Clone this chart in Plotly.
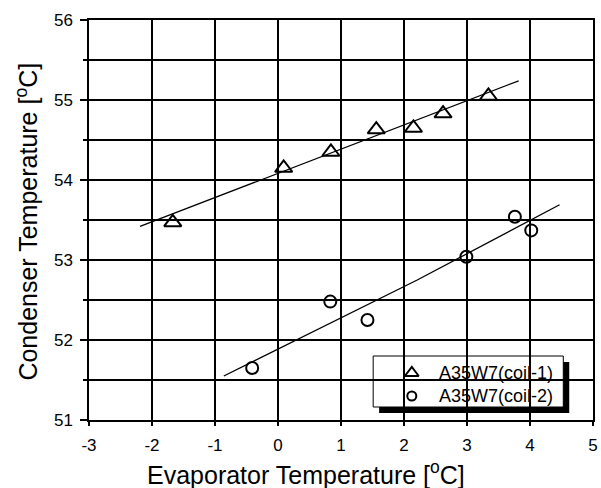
import plotly.graph_objects as go

# Measured points
coil1_x = [-1.67, 0.09, 0.84, 1.56, 2.15, 2.62, 3.34]
coil1_y = [53.47, 54.15, 54.35, 54.63, 54.65, 54.83, 55.05]
coil2_x = [-0.41, 0.83, 1.42, 2.99, 3.76, 4.02]
coil2_y = [51.65, 52.48, 52.25, 53.04, 53.54, 53.37]

# Fitted trend lines
fit1_x = [-2.19, 3.82]
fit1_y = [53.42, 55.24]
fit2_x = [-0.86, 2.21, 4.47]
fit2_y = [51.55, 52.75, 53.69]

x_ticks = [-3, -2, -1, 0, 1, 2, 3, 4, 5]
x_labels = ["-3", "-2", "-1", "0", "1", "2", "3", "4", "5"]
y_ticks = [51, 52, 53, 54, 55, 56]

series_names = ["A35W7(coil-1)", "A35W7(coil-2)"]

FONT = "Liberation Sans"

L, R, T, B = 89, 3, 20, 68
W, H = 601, 488
pw, ph = W - L - R, H - T - B


def px(xp):
    return (xp - L) / pw


def py(yp):
    return (H - B - yp) / ph


fig = go.Figure()
fig.add_trace(go.Scatter(x=fit1_x, y=fit1_y, mode="lines",
                         line=dict(color="black", width=1.3), showlegend=False))
fig.add_trace(go.Scatter(x=fit2_x, y=fit2_y, mode="lines",
                         line=dict(color="black", width=1.3), showlegend=False))
fig.add_trace(go.Scatter(x=coil1_x, y=coil1_y, mode="markers", showlegend=False,
                         name=series_names[0],
                         marker=dict(symbol="triangle-up-open", size=15, color="black",
                                     line=dict(width=2, color="black"))))
fig.add_trace(go.Scatter(x=coil2_x, y=coil2_y, mode="markers", showlegend=False,
                         name=series_names[1],
                         marker=dict(symbol="circle-open", size=12, color="black",
                                     line=dict(width=2, color="black"))))

# Legend key symbols live on an overlay axis pair measured in page pixels
key_x = [415, 415]
key_y = [373, 396]
fig.add_trace(go.Scatter(x=key_x[:1], y=key_y[:1], xaxis="x2", yaxis="y2",
                         mode="markers", showlegend=False, hoverinfo="skip",
                         marker=dict(symbol="triangle-up-open", size=12, color="black",
                                     line=dict(width=2, color="black"))))
fig.add_trace(go.Scatter(x=key_x[1:], y=key_y[1:], xaxis="x2", yaxis="y2",
                         mode="markers", showlegend=False, hoverinfo="skip",
                         marker=dict(symbol="circle-open", size=9, color="black",
                                     line=dict(width=2, color="black"))))

# Legend frame with drop shadow (above gridlines, below traces)
fig.add_shape(type="rect", xref="x domain", yref="y domain",
              x0=px(382), x1=px(574), y0=py(413), y1=py(362),
              fillcolor="black", line=dict(width=0), layer="below")
fig.add_shape(type="rect", xref="x domain", yref="y domain",
              x0=px(376), x1=px(568), y0=py(407), y1=py(356),
              fillcolor="white", line=dict(width=1, color="black"), layer="below")

for name, ky in zip(series_names, key_y):
    fig.add_annotation(x=440, y=ky, xref="x2", yref="y2", text=name,
                       showarrow=False, xanchor="left", yanchor="middle",
                       font=dict(family=FONT, size=18, color="black"))

# Axis titles
fig.add_annotation(x=px(308), y=py(473), xref="paper", yref="paper",
                   text="Evaporator Temperature [<sup>o</sup>C]", showarrow=False,
                   xanchor="center", yanchor="middle",
                   font=dict(family=FONT, size=25, color="black"))
fig.add_annotation(x=px(26), y=py(222), xref="paper", yref="paper",
                   text="Condenser Temperature [<sup>o</sup>C]", showarrow=False,
                   textangle=-90, xanchor="center", yanchor="middle",
                   font=dict(family=FONT, size=25, color="black"))

axis_common = dict(
    showline=True, linecolor="black", linewidth=1.5, mirror=True,
    showgrid=True, gridcolor="black", gridwidth=1.5,
    ticks="outside", tickcolor="black", tickwidth=1.5,
    tickfont=dict(family=FONT, size=17, color="black"),
    zeroline=False,
)

fig.update_layout(
    width=W, height=H,
    margin=dict(l=L, r=R, t=T, b=B),
    paper_bgcolor="white", plot_bgcolor="white",
    font=dict(family=FONT, color="black"),
    showlegend=False,
    xaxis=dict(range=[-3, 5], tickvals=x_ticks, ticktext=x_labels, ticklen=4,
               ticklabelstandoff=5, **axis_common),
    yaxis=dict(range=[51, 56], tickvals=y_ticks, ticklen=7, ticklabelstandoff=4,
               minor=dict(dtick=0.5, ticks="outside", ticklen=4, tickcolor="black",
                          showgrid=True, gridcolor="black", gridwidth=1.5),
               **axis_common),
    xaxis2=dict(overlaying="x", range=[L, W - R], visible=False, showgrid=False),
    yaxis2=dict(overlaying="y", range=[H - B, T], visible=False, showgrid=False),
)

fig.write_html("out.html")
